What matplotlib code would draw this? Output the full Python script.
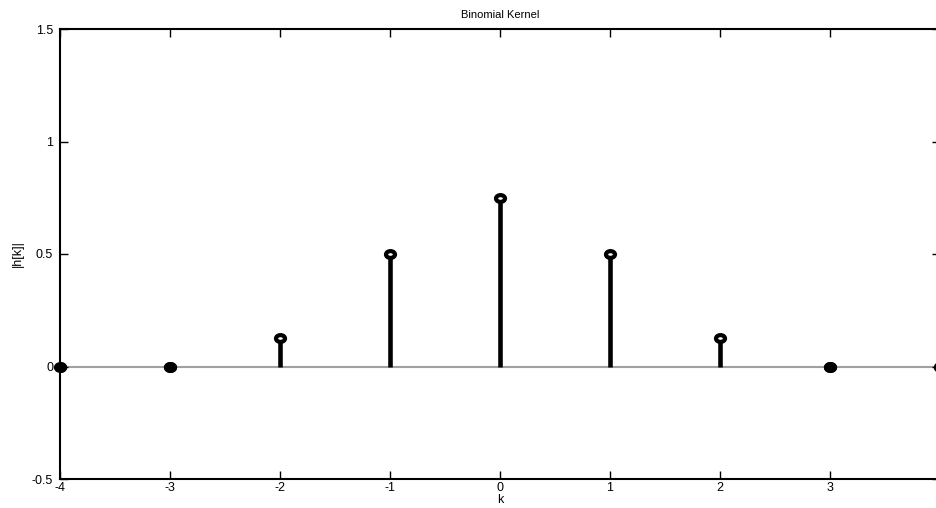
import matplotlib.pyplot as plt
from matplotlib.path import Path
from matplotlib.transforms import Affine2D

k = [-4, -3, -2, -1, 0, 1, 2, 3, 4]
h = [0, 0, 0.125, 0.5, 0.75, 0.5, 0.125, 0, 0]
xtick_labels = ['-4', '-3', '-2', '-1', '0', '1', '2', '3', '']
yticks = [-0.5, 0, 0.5, 1, 1.5]
ytick_labels = ['-0.5', '0', '0.5', '1', '1.5']

plt.rcParams['font.family'] = ['Liberation Sans', 'DejaVu Sans']
plt.rcParams['font.size'] = 9
plt.rcParams['axes.unicode_minus'] = False

# slightly flattened circle for the stem heads
oval = Path.unit_circle().transformed(Affine2D().scale(1, 0.75))

fig = plt.figure(figsize=(9.36, 5.08), dpi=100)
ax = fig.add_axes([60 / 936, 29 / 508, 880 / 936, 450 / 508])

markers, stems, base = ax.stem(k, h, linefmt='k-', markerfmt='ko', basefmt='-')
plt.setp(stems, linewidth=3.3)
plt.setp(markers, marker=oval, markersize=6.5, markerfacecolor='white',
         markeredgewidth=3, zorder=4)
plt.setp(base, color='#a0a0a0', linewidth=1.5, zorder=1)

# heads sitting on the baseline come out solid
kz = [ki for ki, hi in zip(k, h) if hi == 0]
hz = [hi for hi in h if hi == 0]
ax.plot(kz, hz, linestyle='none', marker=oval, markersize=6.5, color='k',
        markeredgewidth=3, zorder=5, clip_on=False)

ax.set_xlim(-4, 4)
ax.set_ylim(-0.5, 1.5)
ax.set_xticks(k)
ax.set_xticklabels(xtick_labels)
ax.set_yticks(yticks)
ax.set_yticklabels(ytick_labels)
ax.tick_params(direction='in', length=6, width=1, top=True, right=True, pad=5)
ax.tick_params(axis='x', pad=2)
for s in ax.spines.values():
    s.set_linewidth(1.5)

ax.set_title('Binomial Kernel', fontsize=8, pad=8)
ax.set_xlabel('k', labelpad=0)
ax.set_ylabel('|h[k]|', labelpad=6)

fig.savefig('out.png', dpi=100)
